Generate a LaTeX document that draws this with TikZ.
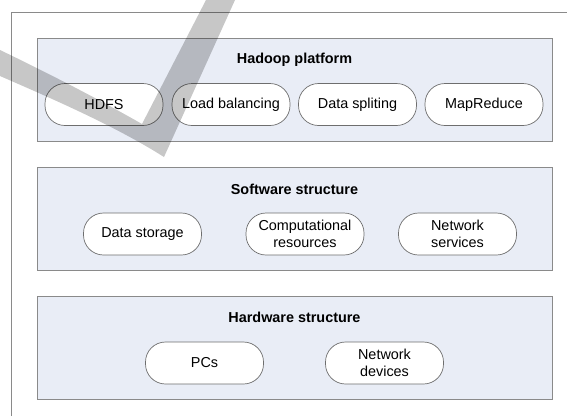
\documentclass[tikz,border=0pt]{standalone}
\usepackage{fontspec}
\setmainfont{Liberation Sans}
\definecolor{panelfill}{HTML}{E9EDF6}
\definecolor{framegray}{HTML}{8A8A8A}
\definecolor{itemgray}{HTML}{6E6E6E}
\newcommand{\itemfont}{\fontsize{14.4}{16.7}\selectfont}
\newcommand{\headfont}{\fontsize{14.4}{16.7}\selectfont\bfseries}
\begin{document}
\begin{tikzpicture}[x=1pt,y=-1pt,
  layer/.style={draw=framegray, line width=0.9pt, fill=panelfill,
    minimum width=515pt, minimum height=103pt, inner sep=0pt},
  item/.style={draw=itemgray, line width=0.7pt, fill=white, rounded corners=20pt,
    minimum width=118pt, minimum height=42pt, inner sep=0pt, align=center, font=\itemfont},
  layertitle/.style={font=\headfont, inner sep=0pt},
]
\useasboundingbox (0,0) rectangle (567,416);

% outer frame (top and left edges)
\coordinate (fa) at (11.7,416);
\coordinate (fb) at (11.7,12.3);
\coordinate (fc) at (567,12.3);
\draw[framegray, line width=0.9pt] (fa) -- (fb) -- (fc);

% three layers
\node[layer] (hadoop) at (294.5,89.5) {};
\node[layer] (soft) at (294.5,218.5) {};
\node[layer] (hard) at (294.5,347.5) {};

\node[layertitle] (thadoop) at (294.5,60) {Hadoop platform};
\node[layertitle] (tsoft) at (294.5,189) {Software structure};
\node[layertitle] (thard) at (294.5,317.5) {Hardware structure};

% Hadoop platform components
\node[item] (hdfs) at (104,104.5) {HDFS};
\node[item] (load) at (231,104.5) {Load balancing};
\node[item] (split) at (357.5,104.5) {Data spliting};
\node[item] (mapred) at (484,104.5) {MapReduce};

% software components
\node[item] (storage) at (142.5,234) {Data storage};
\node[item] (comp) at (305,234) {Computational\\resources};
\node[item] (netsrv) at (457.5,234) {Network\\services};

% hardware components
\node[item] (pcs) at (204.5,363) {PCs};
\node[item] (netdev) at (384.5,363) {Network\\devices};

% translucent tick mark
\fill[black, opacity=0.22]
  (0,50) .. controls (50,74) and (100,100) .. (142,124)
  -- (206,0) -- (235,0) -- (164,157)
  .. controls (115,126) and (55,100) .. (0,76) -- cycle;
\end{tikzpicture}
\end{document}
